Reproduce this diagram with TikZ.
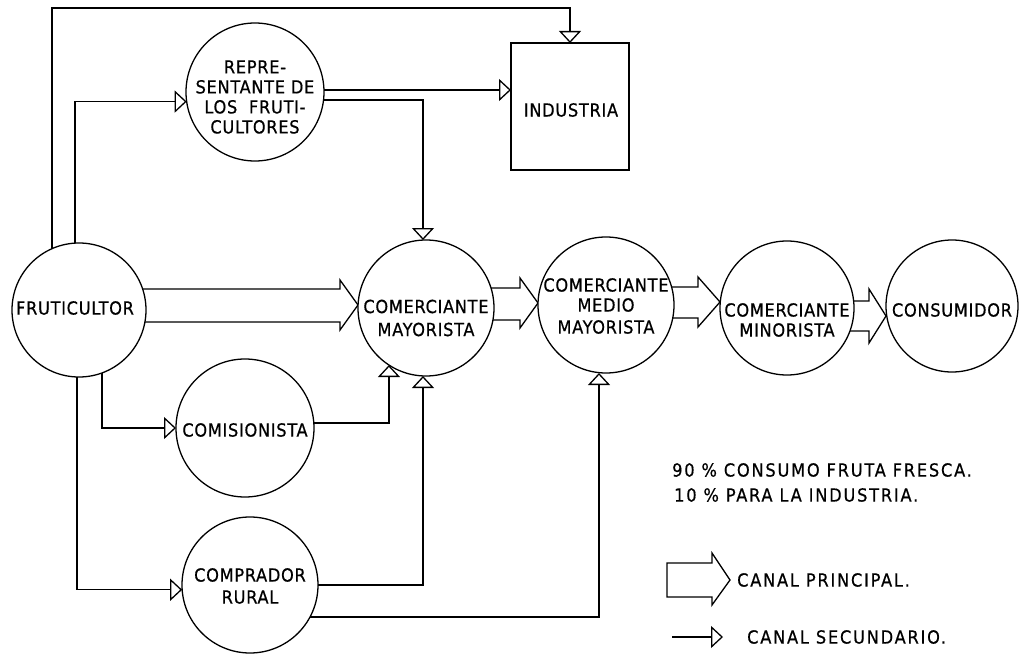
\documentclass[tikz,border=0pt]{standalone}
\usepackage{fontspec}
\newfontfamily\lbl[LetterSpace=4,FakeBold=0.6]{DejaVu Sans Condensed}
\newfontfamily\lgd[LetterSpace=10,FakeBold=0.6]{DejaVu Sans Condensed}
\usetikzlibrary{arrows.meta,backgrounds}
\begin{document}
\begin{tikzpicture}[x=1pt,y=-1pt,
  circ/.style={circle,draw,fill=white,line width=1.3pt,inner sep=0pt,outer sep=0pt},
  boxnode/.style={draw,fill=white,line width=1.3pt,inner sep=0pt,outer sep=0pt},
  txt/.style={font=\lbl\fontsize{18}{20}\selectfont,align=center,inner sep=0pt},
  lgdtxt/.style={font=\lgd\fontsize{18}{20}\selectfont,anchor=west,inner sep=0pt},
  sec/.style={line width=1.3pt,-{Triangle[open,length=12pt,width=22pt]}},
  fat/.style={line width=1.3pt,line join=miter,fill=white},
]
\useasboundingbox (0,0) rectangle (1024,655);

% nodes
\node[circ,minimum size=134pt] (fr) at (79,310) {};
\node[txt] (tfr) at (75,308) {FRUTICULTOR};
\node[circ,minimum size=138pt] (rep) at (255,92) {};
\node[txt] (trep) at (255,97) {REPRE-\\SENTANTE DE\\LOS\ \ FRUTI-\\CULTORES};
\node[boxnode,minimum width=118pt,minimum height=127pt] (ind) at (570,106.5) {};
\node[txt] (tind) at (571,110) {INDUSTRIA};
\node[circ,minimum size=136pt] (mm) at (426,308) {};
\node[txt] (tmm) at (426,318) {COMERCIANTE\\[3pt]MAYORISTA};
\node[circ,minimum size=136pt] (med) at (606,305) {};
\node[txt] (tmed) at (606,306) {COMERCIANTE\\MEDIO\\[2pt]MAYORISTA};
\node[circ,minimum size=134pt] (min) at (787,308) {};
\node[txt] (tmin) at (787,320) {COMERCIANTE\\MINORISTA};
\node[circ,minimum size=132pt] (con) at (952,306) {};
\node[txt] (tcon) at (952,310) {CONSUMIDOR};
\node[circ,minimum size=138pt] (com) at (245,428) {};
\node[txt] (tcom) at (245,430) {COMISIONISTA};
\node[circ,minimum size=136pt] (cr) at (250,585) {};
\node[txt] (tcr) at (250,586) {COMPRADOR\\[2pt]RURAL};

% legend
\node[lgdtxt] (l90) at (672,470) {90 \% CONSUMO FRUTA FRESCA.};
\node[lgdtxt] (l10) at (674,495) {10 \% PARA LA INDUSTRIA.};
\node[lgdtxt] (lcp) at (737,580) {CANAL PRINCIPAL.};
\node[lgdtxt] (lcs) at (747,637) {CANAL SECUNDARIO.};
\coordinate (ls0) at (672,637);
\coordinate (ls1) at (723,637);
\draw[sec] (ls0) -- (ls1);
\draw[fat] (667,563) -- (712,563) -- (712,553) -- (730,580) -- (712,605) -- (712,597) -- (667,597) -- cycle;

\begin{scope}[on background layer]
% secondary channels
\draw[sec] (fr.center -| 52,0) -- (52,8) -- (ind.north |- 0,8) -- (ind.north);
\draw[sec] (fr.center -| 75,0) -- (rep.188 -| 75,0) -- (rep.188);
\draw[sec] (rep.center |- 0,90) -- (ind.west |- 0,90);
\draw[sec] (rep.center |- 0,100) -- (423,100) -- (mm.north -| 423,0);
\draw[sec] (fr.center -| 102,0) -- (com.west -| 102,0) -- (com.west);
\draw[sec] (com.center |- 0,423) -- (mm.237 |- 0,423) -- (mm.237);
\draw[sec] (fr.center -| 77,0) -- (cr.184 -| 77,0) -- (cr.184);
\draw[sec] (cr.center |- 0,585) -- (423,585) -- (mm.south -| 423,0);
\draw[sec] (cr.center |- 0,617) -- (599,617) -- (med.south -| 599,0);
% main channels
\draw[fat] (fr.center |- 0,289) -- (340,289) -- (340,280) -- (mm.west |- 0,305) -- (340,330) -- (340,322) -- (fr.center |- 0,322);
\draw[fat] (mm.center |- 0,288) -- (520,288) -- (520,278) -- (med.west |- 0,303) -- (520,328) -- (520,320) -- (mm.center |- 0,320);
\draw[fat] (med.center |- 0,287) -- (698,287) -- (698,277) -- (min.west |- 0,302) -- (698,327) -- (698,318) -- (med.center |- 0,318);
\draw[fat] (min.center |- 0,301) -- (869,301) -- (869,289) -- (con.west |- 0,316) -- (869,343) -- (869,331) -- (min.center |- 0,331);
\end{scope}
\end{tikzpicture}
\end{document}
